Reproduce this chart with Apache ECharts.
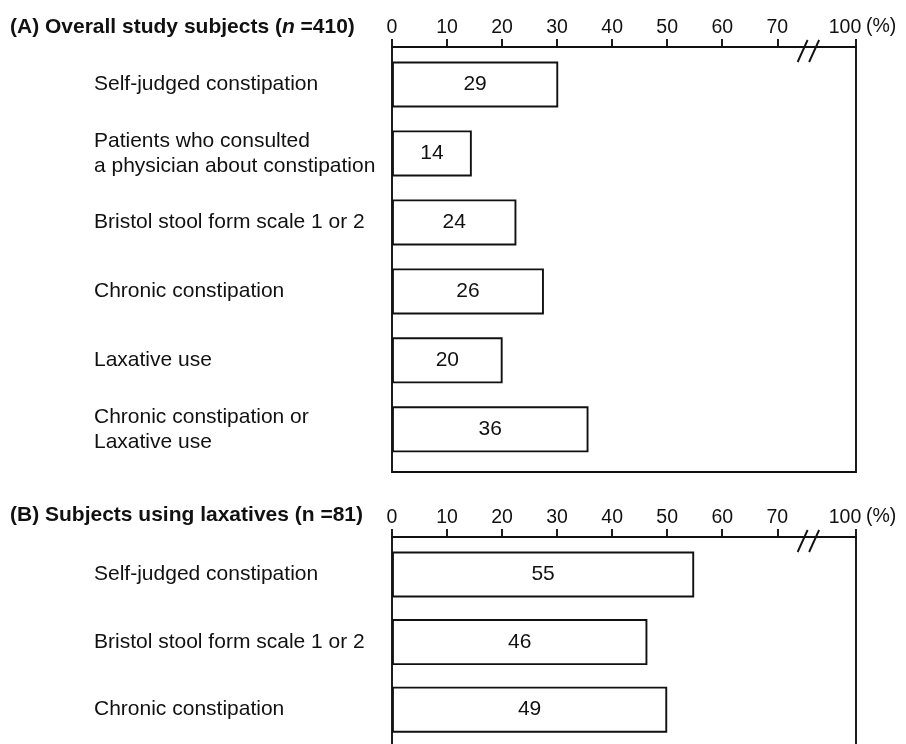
<!DOCTYPE html>
<html><head><meta charset="utf-8">
<script src="https://cdn.jsdelivr.net/npm/echarts@6/dist/echarts.min.js"></script>
<style>html,body{margin:0;padding:0;background:#fff}#c{width:906px;height:744px}</style>
</head><body><div id="c"></div>
<script>
// ---- data ----
const categoriesA = ['Self-judged constipation', 'Patients who consulted\na physician about constipation', 'Bristol stool form scale 1 or 2', 'Chronic constipation', 'Laxative use', 'Chronic constipation or\nLaxative use'];
const labelValuesA = [29, 14, 24, 26, 20, 36];
const barLengthsA = [30.2, 14.5, 22.6, 27.6, 20.1, 35.7];
const categoriesB = ['Self-judged constipation', 'Bristol stool form scale 1 or 2', 'Chronic constipation'];
const labelValuesB = [55, 46, 49];
const barLengthsB = [54.9, 46.4, 50.0];
const tickValues = [0, 10, 20, 30, 40, 50, 60, 70, 84.3];
const tickLabels = ['0', '10', '20', '30', '40', '50', '60', '70', '100'];
const axisMax = 84.3;
const breakAt = 75.6;

// ---- layout ----
const L = 392, W = 464;
const boxA = {top: 47, height: 425}, barsA = {top: 50, height: 413.8};
const boxB = {top: 537, height: 207}, barsB = {top: 540.7, height: 202.8};
const FONT = '"Liberation Sans", Arial, sans-serif';
const INK = '#111';
const TICK_FS = 19.5;
const LW = 1.9;

const chart = echarts.init(document.getElementById('c'), null, {renderer: 'canvas'});

function topAxis(gi) {
  return {
    type: 'value', gridIndex: gi, position: 'top', min: 0, max: axisMax,
    axisLine: {show: true, onZero: false, lineStyle: {color: INK, width: LW}},
    axisTick: {show: true, customValues: tickValues, length: 8, inside: false, lineStyle: {color: INK, width: LW}},
    axisLabel: {show: true, customValues: tickValues, margin: 9, fontSize: TICK_FS, fontFamily: FONT, color: INK,
      formatter: v => { const i = tickValues.indexOf(v); if (i < 0) return ''; return i === tickValues.length - 1 ? '{r|' + tickLabels[i] + '}' : tickLabels[i]; },
      rich: {r: {fontSize: TICK_FS, fontFamily: FONT, color: INK, padding: [0, 22, 0, 0]}}},
    splitLine: {show: false}
  };
}
function hiddenX(gi) { return {type: 'value', gridIndex: gi, min: 0, max: axisMax, show: false}; }
function catY(gi, cats) {
  return {
    type: 'category', gridIndex: gi, data: cats, inverse: true,
    axisLine: {show: false}, axisTick: {show: false}, splitLine: {show: false},
    axisLabel: {align: 'left', margin: L - 94, fontSize: 21, lineHeight: 25, fontFamily: FONT, color: INK}
  };
}
function sideY(gi, pos) {
  return {
    type: 'value', gridIndex: gi, position: pos,
    axisLine: {show: true, onZero: false, lineStyle: {color: INK, width: LW}},
    axisTick: {show: false}, axisLabel: {show: false}, splitLine: {show: false}
  };
}
function barSeries(xi, vals, labels) {
  return {
    type: 'bar', xAxisIndex: xi, yAxisIndex: xi, data: vals, barWidth: 46,
    itemStyle: {color: '#fff', borderColor: INK, borderWidth: LW},
    label: {show: true, position: 'inside', fontSize: 21, fontFamily: FONT, color: INK,
      formatter: p => String(labels[p.dataIndex])},
    silent: true
  };
}
const titleRich = {
  b: {fontWeight: 'bold', fontSize: 21, fontFamily: FONT, color: INK, lineHeight: 22},
  i: {fontWeight: 'bold', fontStyle: 'italic', fontSize: 21, fontFamily: FONT, color: INK, lineHeight: 22}
};

chart.setOption({
  animation: false,
  backgroundColor: '#fff',
  title: [
    {text: '{b|(A) Overall study subjects (}{i|n}{b| =410)}', left: 10, top: 16, padding: 0, textStyle: {rich: titleRich}},
    {text: '{b|(B) Subjects using laxatives (n =81)}', left: 10, top: 504.5, padding: 0, textStyle: {rich: titleRich}}
  ],
  grid: [
    {left: L, width: W, top: boxA.top, height: boxA.height, show: true, borderColor: INK, borderWidth: LW, backgroundColor: 'transparent'},
    {left: L, width: W, top: barsA.top, height: barsA.height},
    {left: L, width: W, top: boxB.top, height: boxB.height},
    {left: L, width: W, top: barsB.top, height: barsB.height}
  ],
  xAxis: [topAxis(0), hiddenX(1), topAxis(2), hiddenX(3)],
  yAxis: [
    {type: 'value', gridIndex: 0, show: false},
    catY(1, categoriesA),
    sideY(2, 'left'),
    catY(3, categoriesB),
    sideY(2, 'right')
  ],
  series: [barSeries(1, barLengthsA, labelValuesA), barSeries(3, barLengthsB, labelValuesB)]
});

// break marks and unit text, positioned through the axis scale
const bx = chart.convertToPixel({xAxisIndex: 0}, breakAt);
const ex = chart.convertToPixel({xAxisIndex: 0}, axisMax);
const els = [];
[boxA.top, boxB.top].forEach(y => {
  els.push({type: 'line', shape: {x1: bx - 10.5, y1: y + 15, x2: bx - 0.5, y2: y - 7}, style: {stroke: INK, lineWidth: LW}});
  els.push({type: 'line', shape: {x1: bx + 1, y1: y + 15, x2: bx + 11, y2: y - 7}, style: {stroke: INK, lineWidth: LW}});
  els.push({type: 'text', x: ex + 10, y: y - 20, style: {text: '(%)', fontSize: TICK_FS, fontFamily: FONT, fill: INK, verticalAlign: 'middle', align: 'left'}});
});
chart.setOption({graphic: els});
</script></body></html>
